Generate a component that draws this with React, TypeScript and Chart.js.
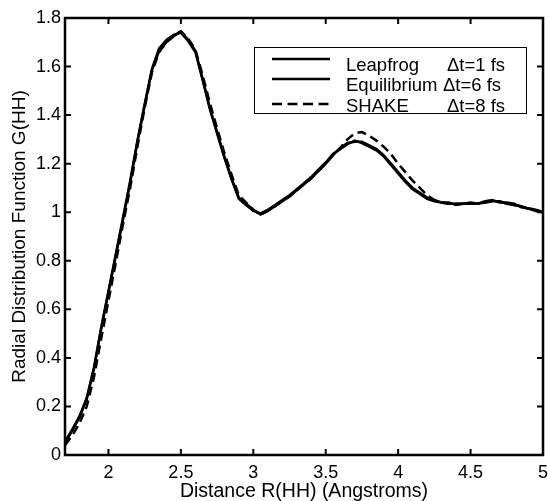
import React, { useEffect, useRef } from "react";
import { Chart, registerables } from "chart.js";

Chart.register(...registerables);

const rValues = [
  1.7, 1.75, 1.8, 1.85, 1.9, 1.95, 2.0, 2.05, 2.1, 2.15, 2.2, 2.25, 2.3, 2.35, 2.4, 2.45,
  2.5, 2.55, 2.6, 2.65, 2.7, 2.75, 2.8, 2.85, 2.9, 2.95, 3.0, 3.05, 3.1, 3.15, 3.2, 3.25,
  3.3, 3.35, 3.4, 3.45, 3.5, 3.55, 3.6, 3.65, 3.7, 3.75, 3.8, 3.85, 3.9, 3.95, 4.0, 4.05,
  4.1, 4.15, 4.2, 4.25, 4.3, 4.35, 4.4, 4.45, 4.5, 4.55, 4.6, 4.65, 4.7, 4.75, 4.8, 4.85,
  4.9, 4.95, 5.0,
];

const leapfrog = [
  0.05, 0.1, 0.155, 0.23, 0.355, 0.52, 0.67, 0.82, 0.97, 1.12, 1.29, 1.44, 1.585, 1.665, 1.7, 1.725,
  1.745, 1.71, 1.665, 1.55, 1.43, 1.33, 1.23, 1.14, 1.06, 1.035, 1.01, 0.99, 1.005, 1.025, 1.045, 1.065,
  1.09, 1.115, 1.14, 1.17, 1.2, 1.235, 1.265, 1.285, 1.29, 1.29, 1.275, 1.26, 1.235, 1.2, 1.165, 1.13,
  1.1, 1.08, 1.06, 1.05, 1.04, 1.035, 1.035, 1.035, 1.035, 1.035, 1.04, 1.045, 1.045, 1.035, 1.03, 1.025,
  1.015, 1.01, 1.0,
];

const equilibrium = [
  0.055, 0.105, 0.16, 0.235, 0.36, 0.525, 0.675, 0.825, 0.975, 1.13, 1.295, 1.445, 1.59, 1.675, 1.71, 1.73,
  1.74, 1.705, 1.66, 1.545, 1.425, 1.325, 1.225, 1.135, 1.055, 1.03, 1.005, 0.995, 1.01, 1.03, 1.05, 1.07,
  1.095, 1.12, 1.145, 1.175, 1.205, 1.24, 1.26, 1.28, 1.295, 1.285, 1.27, 1.255, 1.23, 1.195, 1.16, 1.125,
  1.095, 1.075, 1.055, 1.045, 1.04, 1.04, 1.03, 1.035, 1.04, 1.035, 1.045, 1.05, 1.04, 1.04, 1.035, 1.02,
  1.015, 1.005, 1.0,
];

const shake = [
  0.04, 0.08, 0.13, 0.2, 0.32, 0.48, 0.635, 0.79, 0.95, 1.1, 1.27, 1.43, 1.575, 1.66, 1.7, 1.73,
  1.745, 1.715, 1.67, 1.565, 1.45, 1.345, 1.245, 1.155, 1.07, 1.04, 1.01, 0.99, 1.005, 1.025, 1.045, 1.065,
  1.09, 1.115, 1.14, 1.17, 1.2, 1.235, 1.265, 1.3, 1.325, 1.33, 1.315, 1.295, 1.27, 1.24, 1.2, 1.165,
  1.13, 1.1, 1.07, 1.05, 1.04, 1.035, 1.035, 1.035, 1.035, 1.035, 1.04, 1.045, 1.045, 1.035, 1.03, 1.025,
  1.015, 1.01, 1.0,
];

const xTickValues = [2, 2.5, 3, 3.5, 4, 4.5, 5];
const yTickValues = [0, 0.2, 0.4, 0.6, 0.8, 1, 1.2, 1.4, 1.6, 1.8];

const legendNames = ["Leapfrog", "Equilibrium", "SHAKE"];
const legendSteps = ["\u0394t=1 fs", "\u0394t=6 fs", "\u0394t=8 fs"];

const FONT = "'Liberation Sans', Arial, Helvetica, sans-serif";

const frameTicksPlugin = {
  id: "frameTicks",
  afterDraw(chart: any) {
    const { ctx, chartArea } = chart;
    const { left, right, top, bottom } = chartArea;
    const xs = chart.scales.x;
    const ys = chart.scales.y;
    ctx.save();
    ctx.strokeStyle = "#000";
    ctx.lineWidth = 2.5;
    ctx.strokeRect(left, top, right - left, bottom - top);
    ctx.lineWidth = 2;
    const tl = 6;
    ctx.beginPath();
    xTickValues.forEach((v) => {
      const px = xs.getPixelForValue(v);
      ctx.moveTo(px, bottom);
      ctx.lineTo(px, bottom - tl);
      ctx.moveTo(px, top);
      ctx.lineTo(px, top + tl);
    });
    yTickValues.forEach((v) => {
      const py = ys.getPixelForValue(v);
      ctx.moveTo(left, py);
      ctx.lineTo(left + tl, py);
      ctx.moveTo(right, py);
      ctx.lineTo(right - tl, py);
    });
    ctx.stroke();

    // legend box
    const bx = 254, by = 47, bw = 272, bh = 66;
    ctx.fillStyle = "#fff";
    ctx.fillRect(bx, by, bw, bh);
    ctx.lineWidth = 1;
    ctx.strokeRect(bx + 0.5, by + 0.5, bw, bh);
    const lineRows = [59, 79, 104];
    const textRows = [71, 91, 112];
    ctx.font = `18.5px ${FONT}`;
    ctx.textBaseline = "alphabetic";
    ctx.fillStyle = "#000";
    lineRows.forEach((ry, i) => {
      ctx.lineWidth = 2.5;
      ctx.setLineDash(i === 2 ? [10, 5.5] : []);
      ctx.beginPath();
      ctx.moveTo(272, ry);
      ctx.lineTo(330, ry);
      ctx.stroke();
      ctx.setLineDash([]);
      ctx.fillText(legendNames[i], 346, textRows[i]);
      ctx.fillText(legendSteps[i], i === 1 ? 443 : 447, textRows[i]);
    });
    ctx.restore();
  },
};

export default function App() {
  const ref = useRef<HTMLCanvasElement>(null);
  useEffect(() => {
    if (!ref.current) return;
    const mk = (vals: number[]) => rValues.map((r, i) => ({ x: r, y: vals[i] }));
    const chart = new Chart(ref.current, {
      type: "line",
      data: {
        datasets: [
          { label: legendNames[0], data: mk(leapfrog), borderColor: "#000", borderWidth: 2.5, pointRadius: 0, tension: 0 },
          { label: legendNames[1], data: mk(equilibrium), borderColor: "#000", borderWidth: 2.5, pointRadius: 0, tension: 0 },
          { label: legendNames[2], data: mk(shake), borderColor: "#000", borderWidth: 2.5, borderDash: [9, 5], pointRadius: 0, tension: 0 },
        ],
      },
      options: {
        animation: false,
        responsive: false,
        devicePixelRatio: 1,
        layout: { padding: { top: 18, right: 5, left: 0, bottom: 0 }, autoPadding: false },
        plugins: { legend: { display: false }, tooltip: { enabled: false } },
        scales: {
          x: {
            type: "linear",
            min: 1.7,
            max: 5,
            afterBuildTicks: (s: any) => {
              s.ticks = xTickValues.map((v) => ({ value: v }));
            },
            afterFit: (s: any) => {
              s.height = 46;
              s.paddingLeft = 0;
              s.paddingRight = 0;
            },
            grid: { display: false, drawTicks: false },
            border: { display: false },
            ticks: {
              color: "#000",
              font: { family: FONT, size: 18 },
              padding: 7,
              maxRotation: 0,
              callback: (v: any) => String(v),
            },
            title: {
              display: true,
              text: "Distance R(HH) (Angstroms)",
              color: "#000",
              font: { family: FONT, size: 19.5, lineHeight: 1 },
              padding: { top: 0, bottom: 0 },
            },
          },
          y: {
            type: "linear",
            min: 0,
            max: 1.8,
            afterBuildTicks: (s: any) => {
              s.ticks = yTickValues.map((v) => ({ value: v }));
            },
            afterFit: (s: any) => {
              s.width = 65;
              s.paddingTop = 0;
              s.paddingBottom = 0;
            },
            grid: { display: false, drawTicks: false },
            border: { display: false },
            ticks: {
              color: "#000",
              font: { family: FONT, size: 18 },
              padding: 4,
              callback: (v: any) => String(Number(Number(v).toFixed(1))),
            },
            title: {
              display: true,
              text: "Radial Distribution Function G(HH)",
              color: "#000",
              font: { family: FONT, size: 19, lineHeight: 1 },
              padding: { top: 10, bottom: 0 },
            },
          },
        },
      },
      plugins: [frameTicksPlugin],
    });
    return () => chart.destroy();
  }, []);
  return (
    <div style={{ position: "fixed", left: 0, top: 0, width: 548, height: 501, background: "#fff" }}>
      <canvas ref={ref} width={548} height={501} style={{ width: 548, height: 501, display: "block" }} />
    </div>
  );
}
